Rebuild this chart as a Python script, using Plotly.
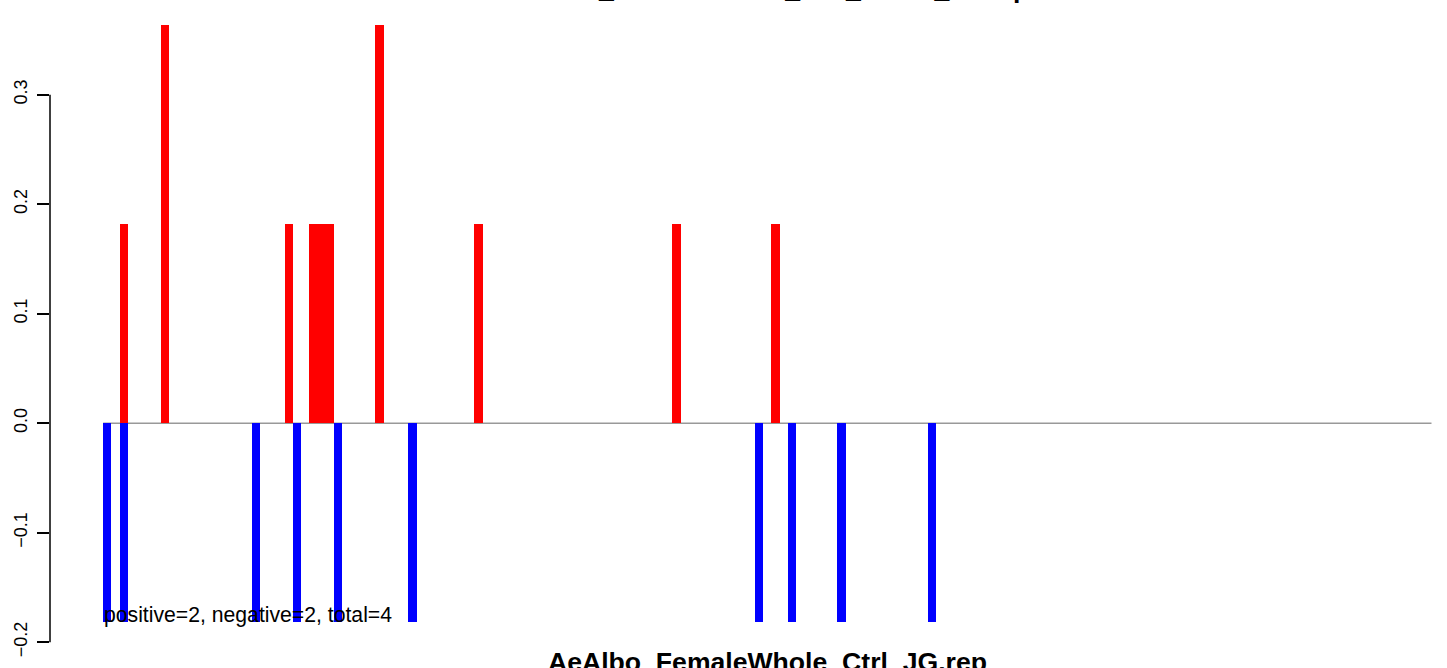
import plotly.graph_objects as go

# ---- data ----
n_bins = 161
pos_index = [2, 7, 22, 25, 26, 27, 33, 45, 69, 81]
pos_value = [0.1818, 0.3636, 0.1818, 0.1818, 0.1818, 0.1818, 0.3636, 0.1818, 0.1818, 0.1818]
neg_index = [0, 2, 18, 23, 28, 37, 79, 83, 89, 100]
neg_value = [-0.1818] * 10
y_ticks = [-0.2, -0.1, 0.0, 0.1, 0.2, 0.3]
y_tick_text = ["\u22120.2", "\u22120.1", "0.0", "0.1", "0.2", "0.3"]
title_text = "AeAlbo_FemaleWhole_Ctrl_Score_Group"
xlab_text = "AeAlbo_FemaleWhole_Ctrl_JG.rep"
summary_text = "positive=2, negative=2, total=4"

FONT = "Liberation Sans, Arial, Helvetica, sans-serif"

fig = go.Figure()
fig.add_trace(go.Bar(x=[i + 0.5 for i in pos_index], y=pos_value, width=1,
                     marker=dict(color="#FF0000", line=dict(width=0)), hoverinfo="skip"))
fig.add_trace(go.Bar(x=[i + 0.5 for i in neg_index], y=neg_value, width=1,
                     marker=dict(color="#0000FF", line=dict(width=0)), hoverinfo="skip"))

# baseline at zero
fig.add_shape(type="line", x0=0, x1=n_bins, y0=0, y1=0, xref="x", yref="y",
              line=dict(color="#999999", width=1.5), layer="below")
# y axis line spanning the tick range (R style)
fig.add_shape(type="line", x0=0, x1=0, y0=y_ticks[0], y1=y_ticks[-1], xref="paper", yref="y",
              line=dict(color="black", width=1.5))

fig.add_annotation(x=0, y=-0.1754, xref="x", yref="y", text=summary_text, showarrow=False,
                   xanchor="left", yanchor="middle", font=dict(family=FONT, size=21.2, color="black"),
                   borderpad=0)
fig.add_annotation(x=n_bins / 2, y=0.0094, xref="x", yref="paper", text="<b>%s</b>" % xlab_text,
                   showarrow=False, xanchor="center", yanchor="middle",
                   font=dict(family=FONT, size=26.6, color="black"))
fig.add_annotation(x=n_bins / 2, y=1.0167, xref="x", yref="paper", text="<b>%s</b>" % title_text,
                   showarrow=False, xanchor="center", yanchor="middle",
                   font=dict(family=FONT, size=26.6, color="black"))

fig.update_layout(
    width=1447, height=668,
    margin=dict(l=50, r=0, t=0, b=0),
    paper_bgcolor="white", plot_bgcolor="white",
    barmode="overlay", bargap=0,
    showlegend=False,
    xaxis=dict(range=[-6.44, 162.88], showticklabels=False, showline=False, showgrid=False,
               zeroline=False, ticks=""),
    yaxis=dict(range=[-0.2236, 0.3865], tickvals=y_ticks, ticktext=y_tick_text, tickangle=-90,
               ticks="outside", ticklen=12, tickwidth=1.5, tickcolor="black",
               showline=False, showgrid=False, zeroline=False, automargin=False,
               ticklabelstandoff=3,
               tickfont=dict(family=FONT, size=18, color="black")),
)

fig.write_html("out.html", config={"displayModeBar": False},
               post_script="document.body.style.margin='0px';document.body.style.overflow='hidden';")
